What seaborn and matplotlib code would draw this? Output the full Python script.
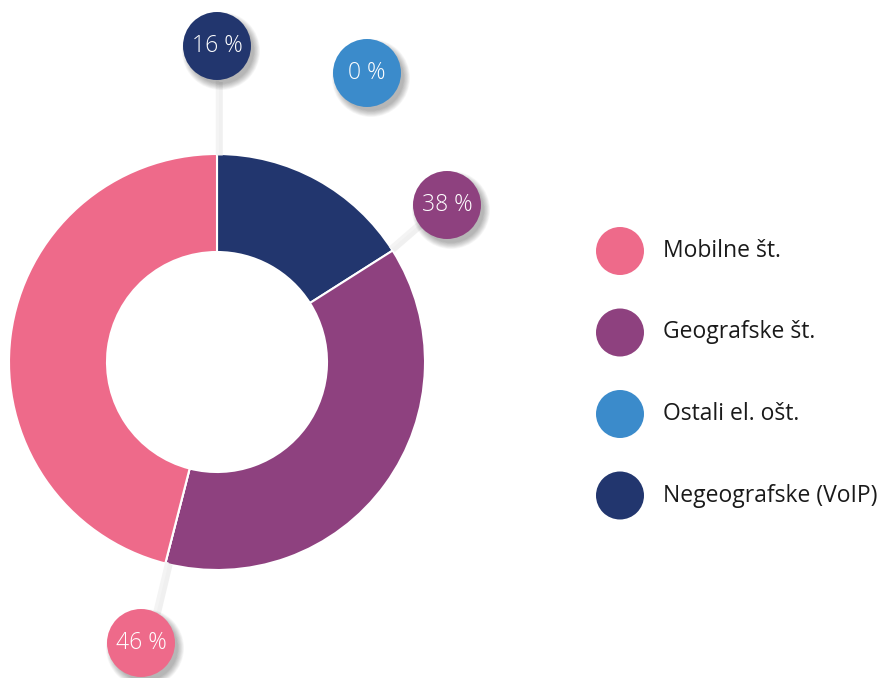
import matplotlib
matplotlib.use("Agg")
import matplotlib.pyplot as plt
import seaborn as sns
from matplotlib.patches import Circle

sns.set_theme(style="white")
plt.rcParams['font.family'] = ['Open Sans', 'DejaVu Sans']

# data (pie order: clockwise from 12 o'clock)
categories = ["Negeografske (VoIP)", "Geografske št.", "Ostali el. ošt.", "Mobilne št."]
shares = [16, 38, 0, 46]
pct_labels = ["16 %", "38 %", "0 %", "46 %"]
legend_order = ["Mobilne št.", "Geografske št.", "Ostali el. ošt.", "Negeografske (VoIP)"]

palette = dict(zip(categories, sns.color_palette(["#22366E", "#8E417F", "#3B8BCB", "#EE6A8A"])))

W, H = 895, 678
fig = plt.figure(figsize=(W / 100, H / 100), dpi=100)
ax = fig.add_axes([0, 0, 1, 1])

cx, cy = 217, H - 362
ax.pie(shares, colors=[palette[c] for c in categories], startangle=90, counterclock=False,
       center=(cx, cy), radius=208, frame=True,
       wedgeprops=dict(width=98, edgecolor="white", linewidth=1.5))
ax.set_xlim(0, W)
ax.set_ylim(0, H)
ax.set_aspect("equal")
ax.axis("off")


def shadow_circle(x, y, r, color):
    for k in range(10, 0, -1):
        ax.add_patch(Circle((x + 4, y - 5), r + k * 0.7 - 2, color="#000000",
                            alpha=0.03, lw=0, zorder=4))
    ax.add_patch(Circle((x, y), r, color=color, lw=0, zorder=5))


# leader lines
leaders = {
    "16 %": [(217, 80), (217, 154)],
    "38 %": [(420, 222), (390, 248)],
    "46 %": [(155, 612), (167, 562)],
}
for pts in leaders.values():
    xs = [p[0] for p in pts]
    ys = [H - p[1] for p in pts]
    ax.plot([x + 3 for x in xs], [y - 2 for y in ys], color="#e2e2e2", lw=4, alpha=0.5,
            solid_capstyle="butt", zorder=2)
    ax.plot(xs, ys, color="#f4f4f4", lw=2.5, solid_capstyle="butt", zorder=3)

# value badges
badge_pos = {"16 %": (217, 46), "38 %": (447, 205), "0 %": (367, 73), "46 %": (141, 643)}
for cat, lab in zip(categories, pct_labels):
    bx, by = badge_pos[lab]
    shadow_circle(bx, H - by, 34, palette[cat])
    ax.text(bx, H - by, lab, color="white", fontsize=16.5, fontweight="light",
            ha="center", va="center", zorder=6)

# legend
for i, name in enumerate(legend_order):
    ly = H - (251 + i * 81.5)
    ax.add_patch(Circle((620, ly), 24, color=palette[name], lw=0, zorder=5))
    ax.text(663, ly, name, color="#1a1a1a", fontsize=16.5, ha="left", va="center")

fig.savefig("out.png", dpi=100, facecolor="white")
